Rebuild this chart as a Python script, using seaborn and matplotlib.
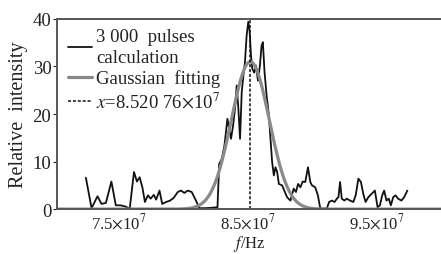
import numpy as np
import pandas as pd
import matplotlib
matplotlib.use('Agg')
import matplotlib.pyplot as plt
import seaborn as sns

# frequency in units of 1e7 Hz
freq_e7 = [7.245, 7.289, 7.335, 7.366, 7.400, 7.443, 7.477, 7.513, 7.546, 7.585,
           7.618, 7.641, 7.662, 7.683, 7.703, 7.726, 7.747, 7.772, 7.790, 7.816,
           7.837, 7.868, 7.898, 7.924, 7.958, 7.983, 8.009, 8.035, 8.066, 8.099,
           8.125, 8.176, 8.228, 8.266, 8.279, 8.300, 8.320, 8.343, 8.356, 8.371,
           8.387, 8.402, 8.415, 8.428, 8.441, 8.454, 8.467, 8.479, 8.492, 8.505,
           8.515, 8.526, 8.536, 8.551, 8.564, 8.580, 8.595, 8.608, 8.618, 8.631,
           8.647, 8.665, 8.677, 8.690, 8.703, 8.716, 8.729, 8.742, 8.767, 8.806,
           8.832, 8.857, 8.875, 8.891, 8.909, 8.927, 8.947, 8.968, 8.986, 8.999,
           9.024, 9.045, 9.063, 9.089, 9.114, 9.132, 9.153, 9.174, 9.192, 9.204,
           9.217, 9.230, 9.251, 9.269, 9.294, 9.320, 9.338, 9.359, 9.379, 9.397,
           9.415, 9.436, 9.461, 9.487, 9.508, 9.526, 9.544, 9.559, 9.577, 9.595,
           9.611, 9.629, 9.647, 9.667, 9.693, 9.714, 9.739]
intensity = [6.6, 0.2, 2.7, 1.1, 1.3, 5.8, 0.8, 0.8, 0.6, 0.1,
             7.8, 5.8, 6.7, 4.6, 1.5, 2.9, 2.2, 3.0, 2.0, 3.9,
             1.1, 1.5, 1.8, 2.3, 3.6, 3.9, 3.4, 3.9, 3.6, 1.8,
             0.2, 0.2, 0.3, 0.4, 9.5, 10.6, 13.4, 19.0, 16.9, 14.8,
             17.6, 21.1, 26.0, 21.1, 14.8, 24.6, 28.1, 30.9, 36.5, 39.4,
             37.5, 32.3, 29.5, 28.7, 30.2, 27.0, 30.2, 34.4, 35.1, 28.8,
             23.9, 19.7, 14.8, 9.9, 7.1, 8.8, 7.8, 5.3, 5.0, 2.5,
             1.8, 4.3, 3.6, 5.3, 4.6, 5.8, 5.7, 8.8, 5.7, 5.0,
             4.6, 2.9, 0.2, 0.1, 0.1, 1.5, 1.8, 1.5, 2.2, 2.5,
             5.7, 2.2, 1.8, 2.2, 1.8, 1.5, 2.9, 6.4, 5.7, 3.2,
             1.5, 2.5, 3.2, 3.9, 0.4, 0.8, 2.9, 3.9, 1.8, 2.2,
             0.8, 2.5, 2.9, 2.2, 1.8, 2.5, 3.9]

# Gaussian fit parameters (estimated from the grey curve)
fit_amp = 31.0
fit_center = 8.52076e7
fit_sigma = 0.147e7

xticks_e7 = [7.5, 8.5, 9.5]
xtick_labels = [r'7.5$\times$10$^7$', r'8.5$\times$10$^7$', r'9.5$\times$10$^7$']
yticks = [0, 10, 20, 30, 40]

sns.set_theme(style='white')
plt.rcParams['font.family'] = ['Liberation Serif', 'DejaVu Serif']
plt.rcParams['mathtext.fontset'] = 'stix'

df = pd.DataFrame({'f': np.array(freq_e7) * 1e7, 'I': intensity})
x_lo, x_hi = 7.02e7, 10.0e7
fgrid = np.linspace(x_lo, x_hi, 600)
gauss = pd.DataFrame({'f': fgrid,
                      'I': fit_amp * np.exp(-(fgrid - fit_center) ** 2 / (2 * fit_sigma ** 2))})

fig = plt.figure(figsize=(4.41, 2.55), dpi=100)
ax = fig.add_axes([0.129, 0.176, 0.871, 0.746])

sns.lineplot(data=df, x='f', y='I', ax=ax, color='#111111', lw=1.3,
             label='3 000  pulses\ncalculation', sort=False)
sns.lineplot(data=gauss, x='f', y='I', ax=ax, color='#8a8a8a', lw=2.3,
             label='Gaussian  fitting')
ax.plot([fit_center, fit_center], [0, 40], color='#111111', lw=1.1,
        dashes=(2, 1.2), label=r'$x$=8.520 76$\times$10$^7$')

ax.set_xlim(x_lo, x_hi)
ax.set_ylim(0, 40)
ax.set_xticks([v * 1e7 for v in xticks_e7])
ax.set_xticklabels(xtick_labels)
ax.set_yticks(yticks)
ax.tick_params(axis='x', length=0, pad=2, labelsize=12, colors='#222222')
ax.tick_params(axis='y', length=3, width=0.8, direction='out', pad=1,
               labelsize=13.5, colors='#222222', left=True)
ax.set_xlabel(r'$f$/Hz', fontsize=12, labelpad=1, color='#222222')
ax.set_ylabel('Relative  intensity', fontsize=14.5, labelpad=3, color='#222222')

for side in ['top', 'left', 'bottom']:
    ax.spines[side].set_color('#555555')
    ax.spines[side].set_linewidth(1.4)
ax.spines['right'].set_visible(False)

leg = ax.legend(loc='upper left', bbox_to_anchor=(0.028, 0.95), frameon=False,
                fontsize=13.5, handlelength=1.3, handletextpad=0.2,
                labelspacing=0.2, borderaxespad=0, borderpad=0)
for t in leg.get_texts():
    t.set_color('#222222')
    t.set_linespacing(1.25)

fig.savefig('out.png', dpi=100)
